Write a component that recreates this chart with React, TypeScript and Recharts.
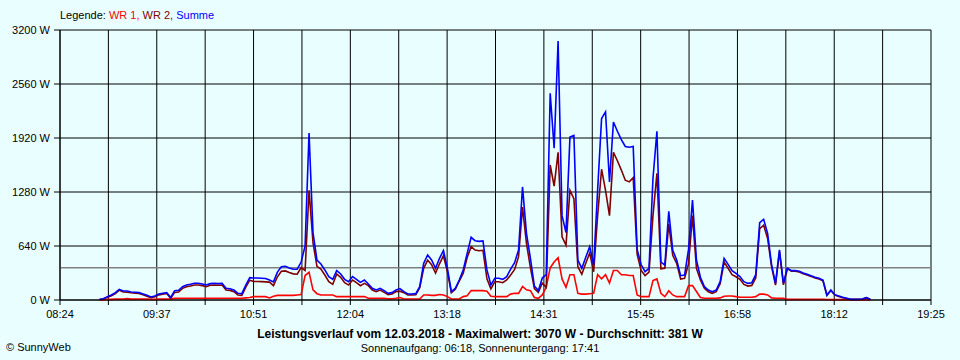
import React from 'react';
import {
  LineChart,
  Line,
  XAxis,
  YAxis,
  CartesianGrid,
  ReferenceLine,
} from 'recharts';

// Minutes after midnight; the axis runs 08:24 .. 19:25
const AXIS_START = 504;
const AXIS_END = 1165;
const TICK_LABELS = ['08:24', '09:37', '10:51', '12:04', '13:18', '14:31', '15:45', '16:58', '18:12', '19:25'];
const Y_TICKS = [0, 640, 1280, 1920, 2560, 3200];
const AVERAGE = 381;

// Samples start at 08:54, one every 3 minutes
const SAMPLE_START = 534;
const SAMPLE_STEP = 3;

const SUMME = [
  5, 15, 40, 59, 87, 126, 107, 107, 95, 91, 87, 71, 55, 36, 47, 71, 79, 87, 30, 110,
  115, 158, 178, 186, 198, 198, 190, 178, 194, 198, 194, 198, 138, 134, 118, 80, 75, 178, 265, 260,
  260, 258, 255, 237, 215, 330, 395, 400, 380, 365, 365, 450, 640, 1980, 800, 474, 427, 356, 277, 245,
  348, 308, 245, 217, 277, 245, 209, 237, 190, 138, 119, 138, 111, 79, 87, 119, 135, 99, 71, 71,
  75, 158, 435, 533, 474, 375, 494, 585, 375, 99, 138, 237, 356, 553, 743, 703, 695, 700, 356, 178,
  257, 257, 245, 277, 367, 442, 593, 1340, 790, 494, 166, 111, 260, 300, 2450, 1800, 3070, 1000, 800, 1930,
  1950, 474, 375, 506, 632, 415, 1300, 2150, 2230, 1400, 2110, 2000, 1900, 1820, 1810, 1820, 600, 420, 336, 375,
  1440, 2000, 450, 415, 1050, 590, 474, 288, 296, 600, 1185, 474, 269, 158, 118, 99, 118, 217, 494, 423,
  348, 316, 277, 217, 197, 205, 300, 916, 956, 790, 420, 197, 593, 200, 379, 348, 350, 340, 320, 304,
  288, 269, 257, 237, 59, 118, 63, 47, 32, 20, 8, 8, 8, 12, 28, 5,
];

const WR1 = [
  0, 0, 8, 8, 10, 10, 12, 16, 10, 10, 10, 10, 10, 8, 8, 10, 10, 10, 10, 20,
  20, 20, 20, 20, 20, 20, 20, 20, 20, 20, 20, 20, 20, 20, 20, 20, 20, 25, 30, 40,
  40, 40, 40, 25, 45, 55, 55, 55, 55, 55, 60, 65, 290, 330, 120, 75, 60, 60, 60, 60,
  40, 40, 40, 40, 40, 40, 40, 40, 20, 20, 20, 20, 20, 15, 15, 20, 30, 12, 12, 12,
  12, 12, 60, 60, 55, 55, 65, 60, 40, 12, 12, 12, 40, 50, 111, 111, 111, 111, 105, 45,
  40, 40, 40, 40, 70, 79, 79, 160, 120, 110, 30, 20, 60, 150, 380, 450, 500, 250, 150, 300,
  300, 79, 70, 70, 75, 80, 300, 250, 300, 200, 350, 350, 300, 300, 290, 290, 60, 40, 40, 40,
  230, 250, 80, 40, 110, 60, 40, 40, 40, 170, 170, 100, 30, 20, 20, 20, 20, 25, 45, 47,
  47, 40, 32, 32, 32, 32, 40, 70, 70, 60, 25, 20, 20, 20, 8, 8, 8, 8, 8, 8,
  8, 8, 8, 8, 5, 5, 5, 5, 5, 3, 0, 0, 0, 0, 0, 0,
];

const WR2 = [
  5, 15, 32, 51, 77, 116, 95, 91, 85, 81, 77, 61, 45, 28, 39, 61, 69, 77, 20, 90,
  95, 138, 158, 166, 178, 178, 170, 158, 174, 178, 174, 178, 118, 114, 98, 60, 55, 153, 235, 220,
  220, 218, 215, 212, 170, 275, 340, 345, 325, 310, 305, 385, 350, 1300, 680, 399, 367, 296, 217, 185,
  308, 268, 205, 177, 237, 205, 169, 197, 170, 118, 99, 118, 91, 64, 72, 99, 105, 87, 59, 59,
  63, 146, 375, 473, 419, 320, 429, 525, 335, 87, 126, 225, 316, 503, 632, 592, 584, 589, 251, 133,
  217, 217, 205, 237, 297, 363, 514, 1100, 670, 384, 136, 91, 200, 150, 1600, 1350, 1750, 750, 650, 1300,
  1200, 395, 305, 436, 557, 335, 1000, 1550, 1300, 1000, 1750, 1650, 1540, 1420, 1400, 1450, 540, 350, 290, 330,
  1000, 1500, 370, 375, 900, 530, 434, 248, 256, 430, 1000, 374, 239, 138, 98, 79, 98, 192, 449, 376,
  301, 276, 245, 185, 165, 173, 260, 846, 886, 730, 395, 177, 573, 180, 371, 340, 342, 332, 312, 296,
  280, 261, 249, 229, 54, 113, 58, 42, 27, 17, 8, 8, 8, 12, 28, 5,
];

const BG = '#E9FFFF';
const FONT = '"Liberation Sans", Arial, sans-serif';

const data = SUMME.map((s, i) => ({
  t: SAMPLE_START + i * SAMPLE_STEP,
  wr1: WR1[i],
  wr2: WR2[i],
  summe: s,
}));

// one grid line between every pair of labels
const gridStep = (AXIS_END - AXIS_START) / ((TICK_LABELS.length - 1) * 2);
const xTicks = Array.from({ length: (TICK_LABELS.length - 1) * 2 + 1 }, (_, i) => AXIS_START + i * gridStep);

const fmtX = (v: number) => {
  const idx = Math.round((v - AXIS_START) / gridStep);
  return idx % 2 === 0 ? TICK_LABELS[idx / 2] : '';
};

export default function App() {
  return (
    <div
      style={{
        position: 'absolute',
        left: 0,
        top: 0,
        width: 960,
        height: 360,
        background: BG,
        fontFamily: FONT,
        color: '#000',
      }}
    >
      <div style={{ position: 'absolute', left: 60, top: 9, fontSize: 11, whiteSpace: 'nowrap' }}>
        Legende: <span style={{ color: '#FF0000' }}>WR 1,</span>{' '}
        <span style={{ color: '#800000' }}>WR 2,</span>{' '}
        <span style={{ color: '#0000FF' }}>Summe</span>
      </div>

      <LineChart
        width={960}
        height={360}
        data={data}
        margin={{ top: 30, right: 29, left: 0, bottom: 30 }}
      >
        <CartesianGrid stroke="#000" strokeWidth={1} />
        <XAxis
          dataKey="t"
          type="number"
          domain={[AXIS_START, AXIS_END]}
          ticks={xTicks}
          tickFormatter={fmtX}
          interval={0}
          height={30}
          tickSize={5}
          tickMargin={5}
          stroke="#000"
          tick={{ fill: '#000', fontSize: 11, fontFamily: FONT }}
        />
        <YAxis
          type="number"
          domain={[0, 3200]}
          ticks={Y_TICKS}
          tickFormatter={(v: number) => `${v} W`}
          width={60}
          tickSize={6}
          tickMargin={4}
          stroke="#000"
          tick={{ fill: '#000', fontSize: 11, fontFamily: FONT }}
        />
        <ReferenceLine y={AVERAGE} stroke="#808080" strokeWidth={1.5} />
        <Line type="linear" dataKey="wr1" stroke="#FF0000" strokeWidth={1.6} dot={false} isAnimationActive={false} />
        <Line type="linear" dataKey="wr2" stroke="#800000" strokeWidth={1.6} dot={false} isAnimationActive={false} />
        <Line type="linear" dataKey="summe" stroke="#0000FF" strokeWidth={1.6} dot={false} isAnimationActive={false} />
      </LineChart>

      <div
        style={{
          position: 'absolute',
          left: 0,
          width: 960,
          top: 327,
          textAlign: 'center',
          fontSize: 12,
          fontWeight: 'bold',
          whiteSpace: 'nowrap',
        }}
      >
        Leistungsverlauf vom 12.03.2018 - Maximalwert: 3070 W - Durchschnitt: 381 W
      </div>
      <div
        style={{
          position: 'absolute',
          left: 0,
          width: 960,
          top: 342,
          textAlign: 'center',
          fontSize: 11,
          whiteSpace: 'nowrap',
        }}
      >
        Sonnenaufgang: 06:18, Sonnenuntergang: 17:41
      </div>
      <div style={{ position: 'absolute', left: 6, top: 341, fontSize: 11, whiteSpace: 'nowrap' }}>
        © SunnyWeb
      </div>
    </div>
  );
}
